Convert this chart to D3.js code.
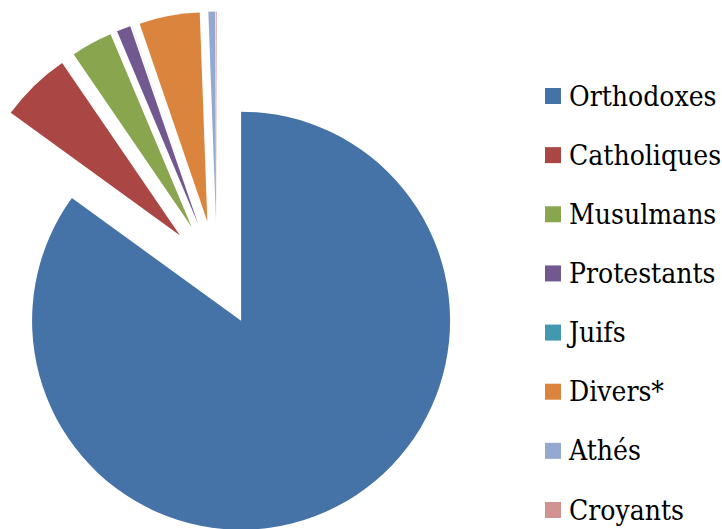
<!DOCTYPE html>
<html>
<head>
<meta charset="utf-8">
<script src="https://cdn.jsdelivr.net/npm/d3@7"></script>
<style>
  body { margin: 0; background: #fff; }
  svg { display: block; }
  .legend text { font-family: "DejaVu Serif Condensed", "DejaVu Serif", serif; font-stretch: condensed; }
</style>
</head>
<body>
<div id="container"></div>
<script>
/* DATA */
const categories = ["Orthodoxes", "Catholiques", "Musulmans", "Protestants", "Juifs", "Divers*", "Athés", "Croyants"];
const values = [84.98, 5.48, 3.20, 1.08, 0.01, 4.67, 0.53, 0.05];
const colors = ["#4572A7", "#AA4643", "#89A54E", "#71588F", "#4198AF", "#DB843D", "#93A9CF", "#D19392"];

/* CONSTANTS */
const width = 722,
  height = 529,
  cx = 217,
  cy = 273.5,
  radius = 209,
  explode = 53;

const data = categories.map((c, i) => ({ name: c, value: values[i], color: colors[i] }));

const svg = d3.select("#container")
  .append("svg")
  .attr("width", width)
  .attr("height", height);

const pie = d3.pie()
  .sort(null)
  .value(d => d.value);

const arc = d3.arc()
  .innerRadius(0)
  .outerRadius(radius);

// every slice is pulled out along its bisector
svg.append("g")
  .attr("transform", `translate(${cx}, ${cy})`)
  .selectAll("path")
  .data(pie(data))
  .join("path")
  .attr("transform", d => {
    const a = (d.startAngle + d.endAngle) / 2;
    return `translate(${Math.sin(a) * explode}, ${-Math.cos(a) * explode})`;
  })
  .attr("fill", d => d.data.color)
  .attr("d", arc);

// LEGEND
const legendY = d3.scalePoint()
  .domain(categories)
  .range([96, 510]);

const legend = svg.append("g")
  .attr("class", "legend")
  .selectAll("g")
  .data(data)
  .join("g")
  .attr("transform", d => `translate(545, ${legendY(d.name)})`);

legend.append("rect")
  .attr("x", 0)
  .attr("y", -8)
  .attr("width", 16)
  .attr("height", 16)
  .attr("fill", d => d.color);

legend.append("text")
  .attr("x", 24)
  .attr("y", 9.5)
  .style("font-size", "28px")
  .attr("fill", "#000")
  .text(d => d.name);
</script>
</body>
</html>
